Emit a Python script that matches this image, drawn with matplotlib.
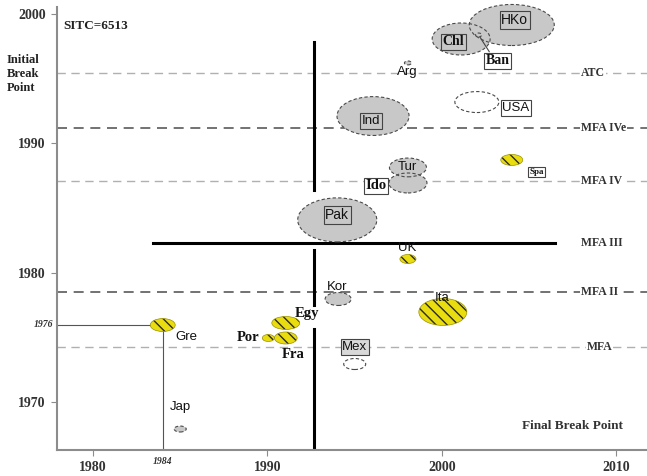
import matplotlib
matplotlib.use('Agg')
import matplotlib.pyplot as plt
from matplotlib.patches import Ellipse

plt.rcParams['hatch.linewidth'] = 1.0

# data: final break (x), initial break (y), bubble extent (years)
countries = ['HKo', 'Chl', 'Ban', 'Arg', 'USA', 'Ind', 'Tur', 'Ido', 'Pak', 'Spa',
             'UK', 'Kor', 'Ita', 'Mex', 'Gre', 'Egy', 'Fra', 'Por', 'Jap']
final_break = [2004.0, 2001.1, 2002.1, 1998.05, 2002.0, 1996.05, 1998.05, 1998.05, 1994.0, 2004.0,
               1998.05, 1994.05, 2000.05, 1995.0, 1984.0, 1991.05, 1991.05, 1990.05, 1985.0]
initial_break = [1999.15, 1998.07, 1998.38, 1996.22, 1993.2, 1992.12, 1988.15, 1986.95, 1984.1, 1988.73,
                 1981.08, 1977.99, 1976.99, 1972.97, 1975.98, 1976.14, 1974.98, 1974.98, 1967.95]
bubble_w = [4.87, 3.32, 0.35, 0.4, 2.52, 4.13, 2.12, 2.18, 4.53, 1.26,
            0.92, 1.49, 2.75, 1.26, 1.43, 1.6, 1.3, 0.69, 0.69]
bubble_h = [3.17, 2.47, 0.3, 0.3, 1.62, 3.0, 1.45, 1.54, 3.4, 0.85,
            0.7, 1.0, 2.08, 0.85, 1.0, 1.0, 0.93, 0.54, 0.46]
group = ['gray', 'gray', 'gray', 'gray', 'white', 'gray', 'gray', 'gray', 'gray', 'yellow',
         'yellow', 'gray', 'yellow', 'white', 'yellow', 'yellow', 'yellow', 'yellow', 'gray']

break_names = ['ATC', 'MFA IVe', 'MFA IV', 'MFA III', 'MFA II', 'MFA']
break_years = [1995.44, 1991.2, 1987.1, 1982.32, 1978.53, 1974.29]

split_x = 1992.66
ref_year = [1984, 1976]

# label layout: offset in px from bubble centre, serif?, boxed?, box face, size
lab = {
    'HKo': (3, 5, False, True, 'none', 10),
    'Chl': (-8, -3, True, True, 'none', 10),
    'Ban': (19, -26, True, True, 'white', 10),
    'Arg': (-1, -9, False, False, None, 9.5),
    'USA': (39, -6, False, True, 'white', 9.5),
    'Ind': (-2, -5, False, True, 'none', 9.5),
    'Tur': (-1, 0, False, False, None, 9.5),
    'Ido': (-32, -3, True, True, 'white', 10.5),
    'Pak': (0, 5, False, True, 'none', 10),
    'Spa': (25, -12, True, True, 'white', 6.5),
    'UK': (-1, 11, False, False, None, 9.5),
    'Kor': (-1, 12, False, False, None, 9.5),
    'Ita': (-1, 14, False, False, None, 9.5),
    'Mex': (0, 17, False, True, '#d8d8d8', 9.5),
    'Gre': (24, -12, False, False, None, 9.5),
    'Egy': (21, 9, True, False, None, 10.5),
    'Fra': (7, -17, True, False, None, 10.5),
    'Por': (-20, 0, True, False, None, 10.5),
    'Jap': (0, 22, False, False, None, 9.5),
}
fills = {'gray': '#c8c8c8', 'white': 'white', 'yellow': '#e9dd10'}

fig = plt.figure(figsize=(6.47, 4.76), dpi=100)
ax = fig.add_axes([57 / 647, 26 / 476, 590 / 647, 443 / 476])
ax.set_xlim(1977.94, 2011.75)
ax.set_ylim(1966.33, 2000.54)

# period break lines
light = dict(color='#b0b0b0', lw=1.0, dashes=(6, 4))
dark = dict(color='#5a5a5a', lw=1.2, dashes=(6, 4))
for name, yb in zip(break_names, break_years):
    if name == 'MFA III':
        ax.plot([1983.44, 2006.48], [yb, yb], color='black', lw=2.2, zorder=2)
    else:
        st = dark if name in ('MFA IVe', 'MFA II') else light
        ax.axhline(yb, zorder=1, **st)
    xl = 2008.3 if name == 'MFA' else 2007.97
    ax.text(xl, yb, name, ha='left', va='center', fontsize=8.5, fontweight='bold',
            family='Liberation Serif', color='#333333', zorder=3,
            bbox=dict(facecolor='white', edgecolor='none', pad=0.5))

# vertical split line (drawn in pieces)
for y0, y1 in [(1997.84, 1986.41), (1981.78, 1977.53), (1975.68, 1966.33)]:
    ax.plot([split_x, split_x], [y0, y1], color='black', lw=2.2, zorder=2)

# 1976 / 1984 guides
ax.plot([1977.94, ref_year[0]], [ref_year[1], ref_year[1]], color='#555555', lw=0.8, zorder=1)
ax.plot([ref_year[0], ref_year[0]], [ref_year[1], 1966.33], color='#555555', lw=0.8, zorder=1)

# bubbles: fills first, then edges/hatching on top
for x, y, w, h, g in zip(final_break, initial_break, bubble_w, bubble_h, group):
    ax.add_patch(Ellipse((x, y), w, h, facecolor=fills[g], edgecolor='none', zorder=4, clip_on=False))
for x, y, w, h, g in zip(final_break, initial_break, bubble_w, bubble_h, group):
    if g == 'yellow':
        ax.add_patch(Ellipse((x, y), w, h, fill=False, edgecolor='#2a2a2a', lw=0,
                             hatch='\\\\\\', zorder=5, clip_on=False))
        ax.add_patch(Ellipse((x, y), w, h, fill=False, edgecolor='#9a9000', lw=0.5,
                             zorder=5, clip_on=False))
    else:
        ax.add_patch(Ellipse((x, y), w, h, fill=False, edgecolor='#4a4a4a', lw=0.8,
                             linestyle=(0, (3, 2)), zorder=5, clip_on=False))

# labels
for c, x, y in zip(countries, final_break, initial_break):
    dx, dy, serif, boxed, face, fs = lab[c]
    kw = {}
    if boxed:
        kw['bbox'] = dict(boxstyle='square,pad=0.12', facecolor=face, edgecolor='#444444', lw=0.8)
    fam = 'Liberation Serif' if serif else 'Liberation Sans'
    ax.annotate(c, (x, y), xytext=(dx * 0.72, dy * 0.72), textcoords='offset points',
                ha='center', va='center', fontsize=fs, family=fam,
                fontweight='bold' if serif else 'normal', color='#111111', zorder=6, **kw)

ax.annotate('', xy=(2002.1, 1998.38), xytext=(2002.8, 1996.9),
            arrowprops=dict(arrowstyle='-', color='#444444', lw=0.8), zorder=6)

# axes styling
for s in ('top', 'right'):
    ax.spines[s].set_visible(False)
for s in ('left', 'bottom'):
    ax.spines[s].set_color('#8c8c8c')
    ax.spines[s].set_linewidth(1.5)

ax.set_xticks([1980, 1990, 2000, 2010])
ax.set_yticks([1970, 1980, 1990, 2000])
ax.tick_params(direction='out', length=4, color='#8c8c8c', labelcolor='#333333', pad=4)
for t in ax.get_xticklabels() + ax.get_yticklabels():
    t.set_family('Liberation Serif')
    t.set_fontweight('bold')
    t.set_fontsize(10)

ax.text(ref_year[0], -0.015, str(ref_year[0]), transform=ax.get_xaxis_transform(),
        ha='center', va='top', fontsize=7, style='italic', fontweight='bold',
        family='Liberation Serif', color='#333333')
ax.text(-0.006, ref_year[1], str(ref_year[1]), transform=ax.get_yaxis_transform(),
        ha='right', va='center', fontsize=7, style='italic', fontweight='bold',
        family='Liberation Serif', color='#333333')

ax.text(63 / 647, 1 - 26 / 476, 'SITC=6513', transform=fig.transFigure, ha='left', va='center',
        fontsize=9.5, fontweight='bold', family='Liberation Serif', color='#222222')
ax.text(7 / 647, 1 - 74 / 476, 'Initial\nBreak\nPoint', transform=fig.transFigure, ha='left',
        va='center', fontsize=9, fontweight='bold', family='Liberation Serif', color='#222222',
        linespacing=1.25, multialignment='left')
ax.text(572 / 647, 1 - 426 / 476, 'Final Break Point', transform=fig.transFigure, ha='center',
        va='center', fontsize=9.5, fontweight='bold', family='Liberation Serif', color='#333333')

fig.savefig('out.png', dpi=100)
